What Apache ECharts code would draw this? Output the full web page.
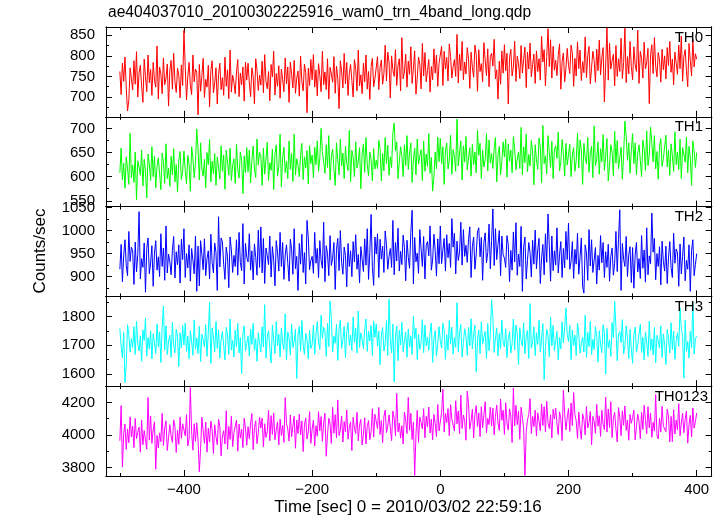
<!DOCTYPE html>
<html><head><meta charset="utf-8">
<script src="https://cdn.jsdelivr.net/npm/echarts@6/dist/echarts.min.js"></script>
<style>html,body{margin:0;padding:0;background:#fff}#c{width:722px;height:516px}</style>
</head><body><div id="c"></div>
<script>
// time bins: start and bin width (sec)
const T0 = -500, DT = 2;

const th0 = [
762,706,782,738,797,722,666,692,771,744, 717,788,731,810,700,759,777,726,687,792, 750,713,802,735,767,704,784,741,724,824, 695,773,756,708,795,730,746,780,678,765, 789,719,806,737,711,770,752,698,778,728,
862,774,693,749,784,728,706,802,737,768, 760,657,779,714,752,794,699,743,724,777, 676,765,788,710,734,771,683,755,782,718, 747,704,797,726,766,696,814,712,753,736, 708,761,791,701,758,730,773,690,785,741,
782,734,701,771,750,683,793,765,716,753, 729,787,710,803,738,720,762,691,779,749, 811,705,757,726,776,697,768,743,713,795, 732,773,687,785,755,722,789,709,746,763, 702,799,737,715,780,759,662,770,728,791,
742,803,724,766,703,781,752,713,811,730, 761,718,793,695,772,756,736,798,709,775, 746,672,788,763,722,806,732,784,704,757, 779,740,700,791,769,715,814,727,754,708, 782,737,802,719,762,694,774,794,725,745,
748,798,718,772,790,731,757,826,739,809, 785,698,800,766,750,815,728,776,793,715, 844,744,761,804,724,787,755,822,733,770, 812,707,746,797,779,720,830,751,808,737, 764,791,712,774,742,817,758,802,726,782,
779,823,728,811,768,796,739,829,799,746, 774,791,750,852,734,804,764,835,742,785, 756,820,793,721,809,772,748,826,803,714, 815,762,781,737,832,790,752,817,725,798, 806,775,840,744,766,695,787,731,812,758,
827,764,806,683,795,816,751,773,835,738, 799,782,745,825,758,791,821,723,809,768, 831,749,779,804,733,812,762,793,741,847, 785,815,727,798,866,774,839,746,823,765, 789,752,801,829,719,786,807,737,770,818,
777,757,826,806,726,794,751,834,769,814, 740,786,759,846,747,801,823,732,772,811, 789,736,816,764,838,754,795,820,688,778, 868,741,830,768,788,804,727,825,750,793, 762,843,745,784,867,735,798,756,835,774,
742,822,779,762,862,733,811,794,746,833, 768,784,818,684,803,827,757,844,775,749, 808,790,736,816,766,800,744,820,776,835, 760,792,730,809,782,755,826,769,848,738, 797,815,764,725,830,788,751,840,773,805,
792
];
const th1 = [
608,659,593,628,576,641,617,584,690,598, 624,588,651,552,633,620,603,655,581,636, 612,556,647,626,592,662,600,643,577,621, 639,607,573,649,631,586,668,596,618,580, 642,604,658,589,625,568,635,652,594,611,
653,613,585,644,626,570,662,639,598,629, 699,657,593,670,616,601,636,577,650,625, 677,589,632,606,648,582,641,620,595,664, 611,645,574,655,630,603,659,592,623,637, 586,667,615,597,651,634,565,643,608,660,
610,655,587,634,663,616,598,678,624,650, 643,582,659,605,636,671,592,629,613,657, 573,647,666,601,621,688,579,639,661,608, 632,596,674,615,648,590,688,603,637,623, 600,644,669,594,641,618,654,585,664,627,
645,598,661,625,674,611,638,700,652,630, 607,666,619,685,593,642,657,615,582,670, 635,604,678,622,649,596,663,627,613,696, 589,654,640,600,672,618,631,660,575,647, 667,609,681,624,602,651,636,591,658,616,
634,617,675,658,591,648,612,681,627,665, 603,641,619,691,711,654,672,596,630,662, 644,600,666,623,685,615,649,670,588,635, 659,604,678,626,643,656,592,674,611,647, 621,689,607,640,570,599,651,616,682,631,
679,627,662,584,653,670,616,634,686,605, 656,642,611,719,622,649,674,593,664,630, 683,614,639,660,601,667,625,651,608,696, 644,669,596,655,620,635,689,612,676,628, 648,617,658,681,589,645,663,604,632,672,
641,678,599,668,632,655,608,683,658,614, 637,651,617,702,604,662,629,688,610,646, 622,675,653,583,666,635,615,680,661,587, 706,627,643,606,685,650,619,673,596,657, 664,638,692,612,630,677,648,601,669,624,
625,667,600,645,660,611,633,690,618,676, 656,584,669,640,627,681,609,649,663,598, 705,622,636,672,605,658,631,687,613,644, 679,591,624,666,651,602,694,628,675,616, 639,661,595,647,715,683,634,670,607,654,
689,627,670,604,648,666,634,600,676,658, 613,695,623,645,703,669,631,685,616,652, 595,662,679,621,638,635,686,620,655,603, 668,644,611,693,625,651,615,678,596,660, 647,630,682,608,663,639,582,674,653,619,
650
];
const th2 = [
916,970,889,945,980,924,902,998,933,964, 956,883,975,910,948,1041,895,939,920,973, 866,961,984,906,930,967,879,951,978,914, 943,900,993,922,962,892,1010,908,949,932, 904,957,987,897,954,926,969,886,981,937,
1004,898,950,919,969,890,961,936,906,988, 868,966,880,978,948,915,982,902,939,956, 895,992,930,908,973,952,870,1030,921,984, 975,927,894,964,943,876,986,958,909,946, 922,980,903,996,931,913,1015,884,972,942,
932,993,914,956,893,971,942,903,1001,920, 1008,908,983,885,962,946,926,988,899,965, 936,880,978,953,912,996,922,974,894,947, 969,930,890,981,959,905,1004,917,944,870, 972,927,992,909,952,884,1022,984,915,935,
944,907,996,929,961,898,978,935,918,1018, 889,967,950,902,989,924,940,974,872,959, 983,913,1000,931,905,964,946,878,972,922, 956,900,976,932,991,916,948,886,965,938, 911,982,925,1004,894,953,1035,920,881,986,
949,993,898,981,938,966,909,999,969,916, 944,961,920,1022,904,974,934,1005,912,955, 926,990,963,891,979,942,918,996,1044,884, 985,932,951,907,1002,960,922,987,895,968, 976,945,1010,914,936,992,957,901,982,928,
1010,928,958,983,912,991,941,972,920,1026, 964,994,906,977,935,953,1018,925,1002,944, 968,931,980,1008,898,965,986,916,949,997, 1006,943,985,892,974,995,930,952,1014,917, 978,1047,924,1004,937,970,1000,902,988,947,
940,920,989,969,889,957,914,997,932,1017, 903,949,922,1009,868,964,986,895,935,974, 952,899,979,927,1001,917,958,983,885,941, 970,904,993,931,1036,967,890,988,913,956, 925,1006,908,947,976,898,961,919,998,937,
1016,916,933,976,896,959,927,994,905,942, 984,879,864,969,951,892,1002,923,980,909, 936,963,884,946,914,989,930,974,898,954, 920,970,890,944,962,903,929,998,911,981, 1045,870,972,938,922,987,900,948,965,887,
963,875,947,974,910,939,896,989,918,958, 888,1006,904,945,928,1038,953,983,893,950, 922,965,882,977,933,912,966,885,941,976, 920,898,994,929,960,952,879,971,906,944, 986,891,935,916,969,868,957,980,902,926,
950
];
const th3 = [
1759,1698,1656,1745,1570,1634,1772,1738,1676,1723, 1692,1765,1668,1784,1703,1680,1733,1644,1754,1717, 1795,1662,1727,1688,1751,1652,1741,1709,1671,1775, 1695,1747,1640,1762,1838,1683,1768,1667,1714,1735, 1658,1780,1701,1674,1756,1730,1626,1744,1691,1769,
1701,1778,1679,1732,1653,1751,1715,1665,1789,1686, 1726,1671,1766,1643,1739,1720,1694,1772,1661,1744, 1850,1637,1760,1729,1677,1783,1689,1754,1655,1721, 1748,1700,1649,1763,1736,1668,1792,1683,1717,1659, 1753,1695,1777,1673,1727,1601,1742,1768,1680,1706,
1733,1662,1757,1703,1777,1682,1723,1644,1744,1710, 1676,1765,1694,1842,1655,1729,1751,1688,1638,1771, 1718,1671,1783,1698,1739,1659,1760,1706,1685,1810, 1649,1747,1726,1665,1774,1692,1712,1756,1584,1736, 1766,1679,1787,1701,1668,1742,1720,1652,1753,1689,
1703,1771,1668,1739,1783,1712,1685,1805,1724,1763, 1753,1661,1777,1695,1855,1795,1676,1732,1707,1774, 1647,1759,1787,1689,1719,1766,1656,1747,1780,1700, 1736,1682,1799,1710,1760,1673,1820,1692,1744,1722, 1688,1754,1792,1679,1750,1715,1769,1665,1784,1728,
1775,1697,1750,1632,1736,1762,1680,1707,1786,1664, 1861,1720,1673,1774,1572,1730,1768,1646,1753,1701, 1781,1677,1715,1747,1658,1757,1694,1733,1668,1801, 1723,1760,1650,1739,1686,1709,1790,1674,1771,1698, 1729,1682,1744,1778,1640,1724,1751,1662,1704,1765,
1716,1690,1778,1752,1651,1737,1683,1787,1705,1763, 1669,1727,1693,1849,1678,1746,1773,1659,1710,1758, 1731,1665,1764,1699,1793,1687,1739,1770,1606,1717, 1754,1671,1782,1704,1730,1749,1653,1776,1681,1736, 1860,1799,1675,1725,1761,1663,1742,1689,1788,1711,
1694,1758,1657,1725,1747,1673,1706,1792,1684,1771, 1741,1633,1761,1717,1697,1779,1670,1731,1752,1654, 1846,1690,1711,1765,1664,1744,1703,1788,1676,1723, 1776,1580,1693,1756,1734,1660,1798,1699,1770,1681, 1715,1749,1649,1728,1687,1782,1708,1762,1831,1738,
1713,1769,1650,1754,1700,1735,1664,1777,1739,1673, 1707,1729,1677,1805,1658,1745,1695,1784,1667,1721, 1685,1765,1732,1641,1751,1704,1674,1772,1744,1599, 1759,1692,1717,1661,1780,1727,1854,1762,1646,1738, 1748,1709,1790,1670,1697,1768,1724,1653,1756,1688,
1637,1738,1764,1676,1702,1697,1774,1675,1728,1649, 1747,1711,1661,1785,1682,1722,1667,1762,1639,1735, 1716,1690,1768,1657,1740,1703,1633,1756,1725,1673, 1779,1685,1750,1651,1717,1744,1696,1830,1759,1732, 1585,1788,1679,1713,1655,1749,1691,1851,1669,1723,
1732
];
const th0123 = [
3965,4180,3805,4009,4067,3911,4037,3953,4111,3989, 4055,3923,4101,3977,4017,4049,3895,4091,3941,4027, 4019,3913,4230,3969,4117,3949,4031,4081,3790,3997, 3921,4013,3959,4133,3935,4043,4087,3905,3985,4063, 3995,3955,4093,4053,3893,4029,3943,4109,3979,4069,
4057,3995,4125,3933,3977,4290,4019,3907,4069,3961, 4075,3969,3775,3919,4109,4025,3949,4079,3895,4041, 3957,4085,4031,3887,4063,3989,3941,4097,4051,3873, 3993,4027,3945,4149,3913,4053,3973,4115,3929,4015, 4003,4091,3901,4067,3981,4037,3923,4103,4043,3937,
4051,3977,4075,4131,3911,4045,4087,3947,4013,4109, 4043,4103,3927,4069,3985,4021,4151,3965,4119,4003, 4135,3971,4031,4081,3939,4097,3997,4059,3955,4230, 4071,4037,3963,4123,3989,4055,4115,3919,4091,4009, 4127,4001,4085,3899,4063,4105,3975,4019,4143,3949,
4037,4091,3933,4057,3993,4143,4025,4113,3961,4073, 4133,3870,4001,4103,4067,3949,4169,4011,4125,3983, 4215,3997,4031,4117,3957,4083,4019,4153,3975,4049, 4079,3905,4109,4041,4009,4139,3965,4061,4095,3939, 4005,4105,3945,4053,4089,3971,4023,4161,3987,4127,
4129,4039,4169,4003,4089,3953,4113,4153,4015,4055, 4123,4045,3965,4147,4103,3995,4255,4019,4073,3981, 4057,3945,4141,4091,4009,4230,4029,4133,3973,4079, 3752,4001,4151,3955,4109,4077,4037,4161,3983,4115, 4049,4171,4013,4097,3971,4127,4069,3991,4187,4025,
4032,4138,4280,4018,4132,4076,4162,3996,4186,4098, 4110,4024,4210,4068,4148,4008,4244,4040,4122,4088, 3968,4268,4192,4036,4084,4158,3982,4126,4180,4052, 4136,3990,4174,4044,4120,4204,4014,4102,4064,4170, 4056,4164,4002,4114,4184,4072,4028,4220,4090,4152,
4004,4198,4074,4030,4160,4118,3954,4288,4056,4182, 4064,4146,3974,4170,4110,4044,3752,4018,4092,4126, 4222,4010,4114,4052,4152,3994,4136,4086,4026,4190, 4058,4174,4020,4206,4076,4040,4124,3982,4158,4098, 4164,4068,4002,4142,4100,3966,4275,4130,4032,4106,
4162,4022,4196,4058,4260,4124,4088,3980,4140,4040, 3974,4130,4096,4000,4174,4044,4076,4144,3940,4114, 4084,4010,4188,4054,4118,3992,4152,4066,4032,4232, 4018,4160,4046,4204,3984,4102,4138,4036,3958,4168, 4108,3996,4148,4060,4178,4028,4092,3968,4126,4072,
4108,4152,3970,4050,4128,4084,3978,4138,4034,4182, 4094,4008,4174,4044,4134,3986,4078,4024,4248,4000, 3976,4102,4018,4176,4054,4060,4020,4158,4118,3958, 4114,3960,4156,4006,4092,4030,4192,3996,4074,4132, 4014,4096,4146,3950,4062,4120,3988,4166,4042,4082,
4135
];

const seriesValues = [th0, th1, th2, th3, th0123];
const panelNames = ['TH0', 'TH1', 'TH2', 'TH3', 'TH0123'];
const xMajor = [-400, -200, 0, 200, 400];
const xMinor = [-500, -300, -100, 100, 300];
const yRanges = [[652, 870], [538, 724], [857, 1052], [1557, 1871], [3749, 4299]];
const yMajor = [[700, 750, 800, 850], [550, 600, 650, 700], [900, 950, 1000, 1050], [1600, 1700, 1800], [3800, 4000, 4200]];
const yMinor = [[675, 725, 775, 825], [575, 625, 675], [875, 925, 975, 1025], [1650, 1750, 1850], [3900, 4100]];
const colors = ['#ff0000', '#00ff00', '#0000ff', '#00ffff', '#ff00ff'];

const XMIN = -521.6, XMAX = 423.4;
const FONT = 'Liberation Sans, Arial, Helvetica, sans-serif';
const tops = [27, 116.8, 206.6, 296.4, 386.2];
const PH = 89.8;

const grids = [], xAxes = [], yAxes = [], series = [], graphics = [];
for (let g = 0; g < 5; g++) {
  grids.push({left: 106, right: 10.3, top: tops[g], height: PH, outerBoundsMode: 'none', containLabel: false});
  const last = g === 4;
  const mkX = (pos, vals, len, label) => ({
    type: 'value', gridIndex: g, position: pos, min: XMIN, max: XMAX,
    axisLine: {show: true, onZero: false, lineStyle: {color: '#000', width: 1}},
    axisTick: {show: true, inside: true, length: len, customValues: vals, lineStyle: {color: '#000', width: 1}},
    axisLabel: label ? {show: true, customValues: xMajor, fontSize: 15, fontFamily: FONT, color: '#000', margin: 6,
      formatter: v => String(v).replace('-', '\u2212')} : {show: false},
    splitLine: {show: false}
  });
  xAxes.push(mkX('bottom', xMajor, 6, last));
  xAxes.push(mkX('bottom', xMinor, 3, false));
  xAxes.push(mkX('top', xMajor, 6, false));
  xAxes.push(mkX('top', xMinor, 3, false));
  const [ymin, ymax] = yRanges[g];
  const mkY = (pos, vals, len, label) => ({
    type: 'value', gridIndex: g, position: pos, min: ymin, max: ymax,
    axisLine: {show: true, onZero: false, lineStyle: {color: '#000', width: 1}},
    axisTick: {show: true, inside: true, length: len, customValues: vals, lineStyle: {color: '#000', width: 1}},
    axisLabel: label ? {show: true, customValues: yMajor[g], fontSize: 15, fontFamily: FONT, color: '#000', margin: 11,
      formatter: v => String(v)} : {show: false},
    splitLine: {show: false}
  });
  yAxes.push(mkY('left', yMajor[g], 6, true));
  yAxes.push(mkY('left', yMinor[g], 3, false));
  yAxes.push(mkY('right', yMajor[g], 6, false));
  yAxes.push(mkY('right', yMinor[g], 3, false));

  series.push({
    type: 'line', xAxisIndex: g * 4, yAxisIndex: g * 4,
    data: seriesValues[g].map((v, i) => [T0 + i * DT, v]),
    showSymbol: false, symbol: 'none', sampling: null,
    lineStyle: {color: colors[g], width: 1},
    clip: true, animation: false, z: 1
  });

  graphics.push({
    type: 'text', x: g === 4 ? 708 : 703, y: tops[g] + 10.5, z: 100,
    style: {text: panelNames[g], font: '15px ' + FONT, fill: '#000', align: 'right', verticalAlign: 'middle'}
  });
}

graphics.push({type: 'text', x: 108, y: 12.5, style: {text: 'ae404037010_20100302225916_wam0_trn_4band_long.qdp', font: '15.6px ' + FONT, fill: '#000', align: 'left', verticalAlign: 'middle'}});
graphics.push({type: 'text', x: 408, y: 507, style: {text: 'Time [sec] 0 = 2010/03/02 22:59:16', font: '17px ' + FONT, fill: '#000', align: 'center', verticalAlign: 'middle'}});
graphics.push({type: 'text', x: 40, y: 251, rotation: Math.PI / 2, style: {text: 'Counts/sec', font: '17px ' + FONT, fill: '#000', align: 'center', verticalAlign: 'middle'}});

const chart = echarts.init(document.getElementById('c'), null, {renderer: 'canvas'});
chart.setOption({
  animation: false,
  backgroundColor: '#fff',
  grid: grids,
  xAxis: xAxes,
  yAxis: yAxes,
  series: series,
  graphic: graphics
});
</script>
</body></html>
